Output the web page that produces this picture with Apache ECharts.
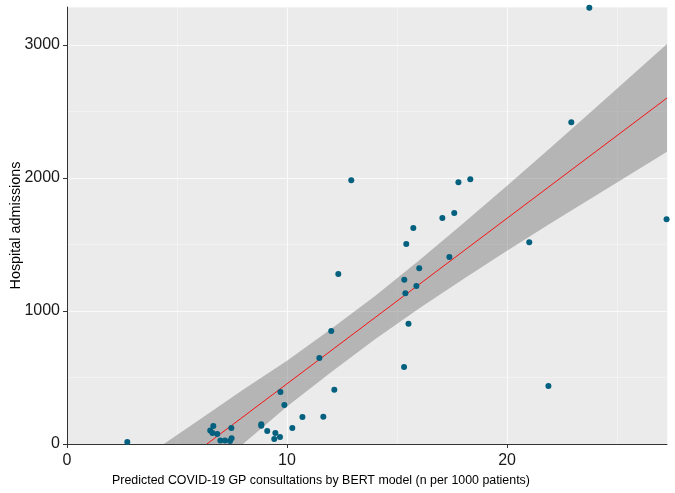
<!DOCTYPE html>
<html><head><meta charset="utf-8">
<script src="https://cdn.jsdelivr.net/npm/echarts@6/dist/echarts.min.js"></script>
<style>html,body{margin:0;padding:0;background:#fff}#c{width:675px;height:493px}</style>
</head><body><div id="c"></div>
<script>
// Scatter points (predicted consultations, hospital admissions)
const xVals = [2.74, 6.51, 6.65, 6.61, 6.83, 6.97, 7.18, 7.41, 7.48, 7.47,
  8.83, 8.83, 9.10, 9.47, 9.42, 9.68, 9.70, 9.88, 10.24, 10.70,
  12.92, 12.33, 12.01, 11.47, 12.15, 11.65,
  15.32, 15.52, 15.38, 15.33, 15.88, 16.01, 15.42, 15.74, 17.06, 17.60, 17.38, 17.79, 18.33,
  23.74, 22.92, 21.01, 27.25, 21.88];
const yVals = [15, 102, 135, 83, 75, 27, 27, 22, 43, 121,
  148, 137, 98, 83, 38, 53, 391, 293, 121, 203,
  1983, 1277, 849, 646, 408, 205,
  578, 904, 1134, 1234, 1187, 1322, 1503, 1623, 1698, 1736, 1405, 1968, 1991,
  3280, 2419, 1517, 1690, 436];
// Fitted line end points
const fitX = [6.36, 27.27];
const fitY = [0, 2601];
// Confidence band edges
const bandX    = [4.4, 6, 8, 10, 12, 14, 16, 18, 20, 22, 24, 27.27];
const bandLow  = [-488, -270, 0, 281, 540, 787, 1019, 1238, 1452, 1661, 1864, 2196];
const bandHigh = [0, 180, 408, 625, 864, 1113, 1379, 1658, 1942, 2231, 2524, 3006];
// Ticks
const xTicks = [0, 10, 20];
const yTicks = [0, 1000, 2000, 3000];
const xMax = 27.27, yMax = 3285;

const chart = echarts.init(document.getElementById('c'));
const font = 'Liberation Sans, Arial, sans-serif';

chart.setOption({
  animation: false,
  backgroundColor: '#ffffff',
  grid: {left: 67, right: 8, top: 7, bottom: 49, backgroundColor: '#EBEBEB', show: true, borderWidth: 0,
         outerBoundsMode: 'none', containLabel: false},
  xAxis: [{
    type: 'value', min: 0, max: xMax, interval: 10,
    name: 'Predicted COVID-19 GP consultations by BERT model (n per 1000 patients)',
    nameLocation: 'middle', nameGap: 31, nameMoveOverlap: false,
    nameTextStyle: {fontFamily: font, fontSize: 12.4, color: '#000', padding: [0, 92, 0, 0]},
    axisLine: {show: true, onZero: false, lineStyle: {color: '#333', width: 1}},
    axisTick: {show: true, length: 4, lineStyle: {color: '#333'}, customValues: xTicks},
    axisLabel: {fontFamily: font, fontSize: 16, color: '#1a1a1a', margin: 9, customValues: xTicks,
      formatter: v => (xTicks.indexOf(v) >= 0 ? String(v) : '')},
    splitLine: {show: true, lineStyle: {color: '#ffffff', width: 1.1}}
  }, {
    type: 'value', min: 0, max: xMax, interval: 5, gridIndex: 0, position: 'bottom',
    axisLine: {show: false}, axisTick: {show: false}, axisLabel: {show: false},
    splitLine: {show: true, lineStyle: {color: '#F7F7F7', width: 0.6}}
  }],
  yAxis: [{
    type: 'value', min: 0, max: yMax, interval: 1000,
    name: 'Hospital admissions', nameLocation: 'middle', nameGap: 44, nameMoveOverlap: false,
    nameTextStyle: {fontFamily: font, fontSize: 14.4, color: '#000'},
    axisLine: {show: true, onZero: false, lineStyle: {color: '#333', width: 1}},
    axisTick: {show: true, length: 4, lineStyle: {color: '#333'}, customValues: yTicks},
    axisLabel: {fontFamily: font, fontSize: 16, color: '#1a1a1a', margin: 7, customValues: yTicks,
      formatter: v => (yTicks.indexOf(v) >= 0 ? String(v) : '')},
    splitLine: {show: true, lineStyle: {color: '#ffffff', width: 1.1}}
  }, {
    type: 'value', min: 0, max: yMax, interval: 500, gridIndex: 0, position: 'left',
    axisLine: {show: false}, axisTick: {show: false}, axisLabel: {show: false},
    splitLine: {show: true, lineStyle: {color: '#F7F7F7', width: 0.6}}
  }],
  series: [
    {type: 'custom', silent: true, z: 2,
     data: bandX.map((x, i) => [x, bandHigh[i]]),
     renderItem: function (params, api) {
       if (params.dataIndex !== 0) return null;
       const pts = [];
       for (let i = 0; i < bandX.length; i++) pts.push(api.coord([bandX[i], bandHigh[i]]));
       for (let i = bandX.length - 1; i >= 0; i--) pts.push(api.coord([bandX[i], bandLow[i]]));
       const cs = params.coordSys;
       return {
         type: 'polygon', shape: {points: pts},
         style: {fill: 'rgba(100,100,100,0.4)', stroke: null},
         clipPath: {type: 'rect', shape: {x: cs.x, y: cs.y, width: cs.width, height: cs.height}}
       };
     }},
    {type: 'line', data: fitX.map((x, i) => [x, fitY[i]]), symbol: 'none',
     lineStyle: {color: '#FF0000', width: 0.9}, z: 3},
    {type: 'scatter', data: xVals.map((x, i) => [x, yVals[i]]), symbolSize: 6,
     itemStyle: {color: '#03607F', opacity: 1}, z: 4}
  ]
});
</script>
</body></html>
